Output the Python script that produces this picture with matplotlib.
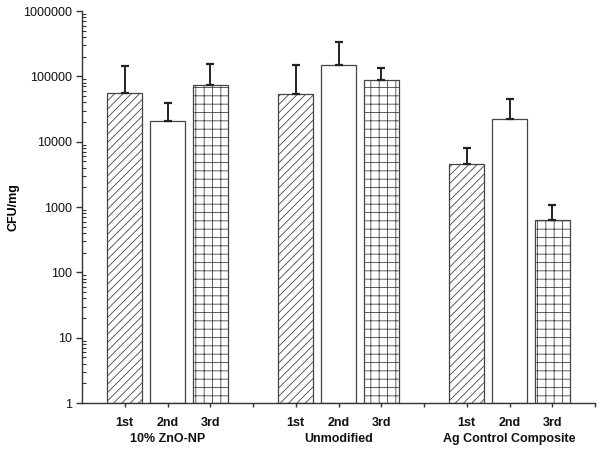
import numpy as np
import matplotlib
matplotlib.use("Agg")
import matplotlib.pyplot as plt

groups = ["10% ZnO-NP", "Unmodified", "Ag Control Composite"]
runs = ["1st", "2nd", "3rd"]
# mean CFU/mg per group, per run
cfu_zno = [56000, 21000, 75000]
cfu_unmod = [53000, 150000, 88000]
cfu_ag = [4500, 22000, 630]
# upper error (SD)
sd_zno = [89000, 18500, 79000]
sd_unmod = [97000, 189000, 47000]
sd_ag = [3500, 23000, 440]

plt.rcParams["font.family"] = ["Liberation Sans", "DejaVu Sans"]
plt.rcParams["hatch.linewidth"] = 0.6
plt.rcParams["hatch.color"] = "#555555"

fig = plt.figure(figsize=(6.0, 4.49), dpi=100)
ax = fig.add_axes([0.1367, 0.1024, 0.855, 0.873])

means = [cfu_zno, cfu_unmod, cfu_ag]
sds = [sd_zno, sd_unmod, sd_ag]
hatches = ["////", "", "++"]

positions = []
labels = []
for g, (m, s) in enumerate(zip(means, sds)):
    for r in range(len(runs)):
        x = g * 4 + r + 1
        positions.append(x)
        labels.append(runs[r])
        ax.bar(x, m[r], width=0.82, bottom=1, color="white", edgecolor="#444444",
               linewidth=0.9, hatch=hatches[r], zorder=2)
        ax.errorbar(x, m[r], yerr=[[0], [s[r]]], fmt="none", ecolor="#222222",
                    elinewidth=1.4, capsize=3, capthick=1.6, zorder=3)

ax.set_yscale("log")
ax.set_ylim(1, 1e6)
ax.set_xlim(0, 12)
ax.set_yticks([1, 10, 100, 1000, 10000, 100000, 1000000])
ax.set_yticklabels(["1", "10", "100", "1000", "10000", "100000", "1000000"])

all_ticks = np.arange(1, 13)
ax.set_xticks(all_ticks)
tick_text = []
for t in all_ticks:
    tick_text.append(labels[positions.index(t)] if t in positions else "")
ax.set_xticklabels(tick_text, fontweight="bold", fontsize=9)

for g, name in enumerate(groups):
    ax.text(g * 4 + 2, -0.077, name, transform=ax.get_xaxis_transform(),
            ha="center", va="top", fontsize=9, fontweight="bold", color="#111111")

for side in ["top", "right"]:
    ax.spines[side].set_visible(False)
for side in ["left", "bottom"]:
    ax.spines[side].set_linewidth(1.0)
    ax.spines[side].set_color("#333333")

ax.tick_params(axis="y", which="major", direction="out", length=4, width=1,
               labelsize=9, colors="#333333", labelcolor="#111111")
ax.tick_params(axis="y", which="minor", direction="in", length=3, width=0.8,
               colors="#333333")
ax.tick_params(axis="x", which="major", direction="out", length=3, width=1,
               colors="#333333", labelcolor="#111111", pad=7)
ax.set_ylabel("CFU/mg", fontweight="bold", fontsize=9)
ax.yaxis.set_label_coords(-0.122, 0.5)

fig.savefig("out.png", dpi=100)
